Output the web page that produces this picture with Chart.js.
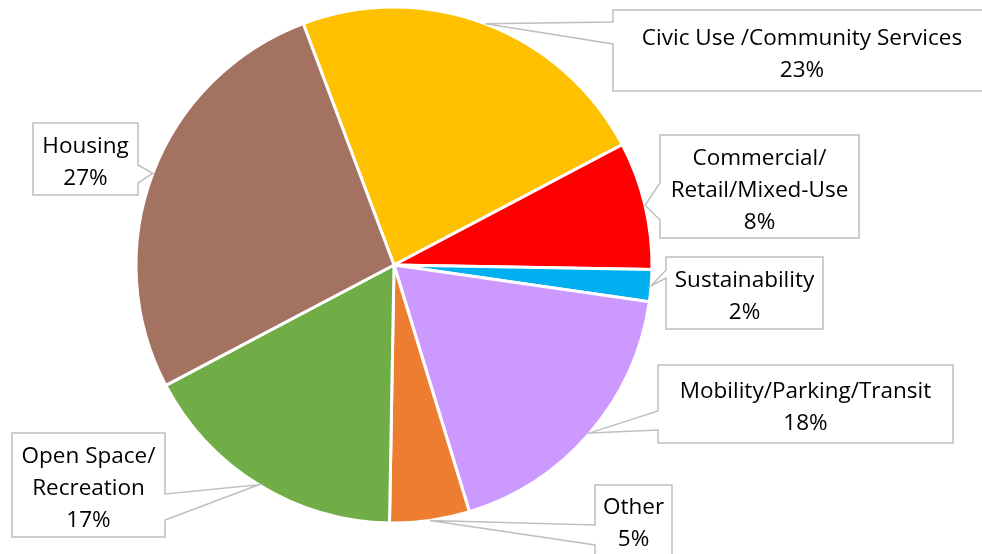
<!DOCTYPE html>
<html>
<head>
<meta charset="utf-8">
<script src="https://cdn.jsdelivr.net/npm/chart.js@4/dist/chart.umd.min.js"></script>
<style>
  html, body { margin: 0; padding: 0; background: #fff; }
  canvas { display: block; }
</style>
</head>
<body>
<canvas id="pie" width="982" height="554"></canvas>
<script>
// ========== Data ==========
const categories = [
  "Civic Use /Community Services",
  "Commercial/ Retail/Mixed-Use",
  "Sustainability",
  "Mobility/Parking/Transit",
  "Other",
  "Open Space/ Recreation",
  "Housing",
];
const shares = [23, 8, 2, 18, 5, 17, 27];
const percentLabels = ["23%", "8%", "2%", "18%", "5%", "17%", "27%"];
// how each label text is broken into lines
const labelLines = [
  ["Civic Use /Community Services"],
  ["Commercial/", "Retail/Mixed-Use"],
  ["Sustainability"],
  ["Mobility/Parking/Transit"],
  ["Other"],
  ["Open Space/", "Recreation"],
  ["Housing"],
];

// ========== Styles ==========
const sliceColors = ["#FFC000", "#FF0000", "#00B0F0", "#CC99FF", "#ED7D31", "#70AD47", "#A47261"];

// callout boxes: [x, y, w, h], side of the wedge, wedge base on that side
const callouts = [
  { box: [613, 10, 378, 81], side: "left", base: [22, 44] },
  { box: [660, 135, 199, 103], side: "left", base: [183, 220] },
  { box: [666, 257, 157, 72], side: "left", base: [270, 278] },
  { box: [658, 365, 295, 78], side: "left", base: [411, 430] },
  { box: [595, 485, 77, 70], side: "left", base: [525, 545] },
  { box: [12, 433, 153, 104], side: "right", base: [494, 520] },
  { box: [33, 123, 105, 72], side: "right", base: [165, 183] },
];

const FONT = '22.5px "Open Sans", "Noto Sans", sans-serif';
const LINE_H = 32;
const TEXT_DY = 4;

// ========== Callout plugin ==========
const calloutPlugin = {
  id: "callouts",
  afterDatasetsDraw(chart) {
    const ctx = chart.ctx;
    const arcs = chart.getDatasetMeta(0).data;
    ctx.save();
    ctx.font = FONT;
    ctx.textAlign = "center";
    ctx.textBaseline = "middle";

    arcs.forEach((arc, i) => {
      const c = callouts[i];
      if (!c) return;
      const p = arc.getProps(["x", "y", "startAngle", "endAngle", "outerRadius"], true);
      const mid = (p.startAngle + p.endAngle) / 2;
      const tipX = p.x + Math.cos(mid) * p.outerRadius;
      const tipY = p.y + Math.sin(mid) * p.outerRadius;

      const [bx, by, bw, bh] = c.box;
      const [b1, b2] = c.base;
      ctx.beginPath();
      if (c.side === "left") {
        ctx.moveTo(bx, by);
        ctx.lineTo(bx + bw, by);
        ctx.lineTo(bx + bw, by + bh);
        ctx.lineTo(bx, by + bh);
        ctx.lineTo(bx, b2);
        ctx.lineTo(tipX, tipY);
        ctx.lineTo(bx, b1);
      } else {
        ctx.moveTo(bx, by);
        ctx.lineTo(bx + bw, by);
        ctx.lineTo(bx + bw, b1);
        ctx.lineTo(tipX, tipY);
        ctx.lineTo(bx + bw, b2);
        ctx.lineTo(bx + bw, by + bh);
        ctx.lineTo(bx, by + bh);
      }
      ctx.closePath();
      ctx.fillStyle = "#fff";
      ctx.fill();
      ctx.strokeStyle = "#BFBFBF";
      ctx.lineWidth = 1.5;
      ctx.stroke();

      const lines = labelLines[i].concat([percentLabels[i]]);
      const cx = bx + bw / 2;
      const top = by + bh / 2 - (lines.length - 1) * LINE_H / 2 + TEXT_DY;
      ctx.fillStyle = "#000";
      lines.forEach((t, k) => ctx.fillText(t, cx, top + k * LINE_H));
    });
    ctx.restore();
  },
};

// ========== Chart ==========
new Chart(document.getElementById("pie"), {
  type: "pie",
  data: {
    labels: categories,
    datasets: [{
      data: shares,
      backgroundColor: sliceColors,
      borderColor: "#fff",
      borderWidth: 3,
    }],
  },
  options: {
    responsive: false,
    animation: false,
    rotation: -20.6,
    radius: 258,
    layout: { padding: { left: 0, right: 194, top: 0, bottom: 24 } },
    plugins: {
      legend: { display: false },
      tooltip: { enabled: false },
    },
  },
  plugins: [calloutPlugin],
});
</script>
</body>
</html>
